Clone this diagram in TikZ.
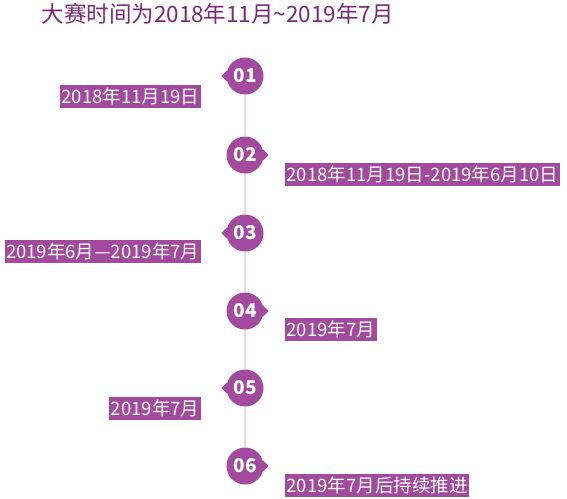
\documentclass[tikz,border=0pt]{standalone}
\usepackage{fontspec}
\setmainfont{Noto Sans CJK SC}
\definecolor{tlpurple}{RGB}{162,74,158}
\definecolor{tltitle}{RGB}{122,42,122}
\definecolor{tlline}{RGB}{240,212,230}
\tikzset{
  stepdot/.style={circle, fill=tlpurple, text=white, minimum size=37pt, inner sep=0pt, font=\fontsize{19}{19}\selectfont\bfseries},
  datebox/.style={fill=tlpurple, text=white, minimum height=23pt, inner xsep=1.5pt, inner ysep=0pt, font=\fontsize{18.5}{18.5}\selectfont},
  tip/.style={fill=tlpurple}
}
\begin{document}
\begin{tikzpicture}[x=1pt,y=-1pt]
        \useasboundingbox (0,0) rectangle (567,498);

        \node[anchor=base west, text=tltitle, font=\fontsize{22.5}{22.5}\selectfont] (title) at (38,22) {大赛时间为2018年11月\textasciitilde2019年7月};

        \node[stepdot] (n1) at (245, 76) {01};
        \node[stepdot] (n2) at (245,155) {02};
        \node[stepdot] (n3) at (245,233) {03};
        \node[stepdot] (n4) at (245,311) {04};
        \node[stepdot] (n5) at (245,388) {05};
        \node[stepdot] (n6) at (245,466) {06};

        \draw[tlline, line width=2pt] (n1) -- (n2) -- (n3) -- (n4) -- (n5) -- (n6);

        % pointers
        \foreach \n in {1,3,5} {
          \fill[tip] ([yshift=6pt,xshift=1pt]n\n.west) -- ++(-6,6) -- ++(6,6) -- cycle;
        }
        \foreach \n in {2,4,6} {
          \fill[tip] ([yshift=6pt,xshift=-1pt]n\n.east) -- ++(6,6) -- ++(-6,6) -- cycle;
        }

        \node[datebox, anchor=east] (d1) at (201, 96.5) {2018年11月19日};
        \node[datebox, anchor=west] (d2) at (285,174.5) {2018年11月19日-2019年6月10日};
        \node[datebox, anchor=east] (d3) at (201,251.5) {2019年6月—2019年7月};
        \node[datebox, anchor=west] (d4) at (285,329.5) {2019年7月};
        \node[datebox, anchor=east] (d5) at (201,408.5) {2019年7月};
        \node[datebox, anchor=west] (d6) at (285,485.5) {2019年7月后持续推进};

    \end{tikzpicture}
\end{document}
